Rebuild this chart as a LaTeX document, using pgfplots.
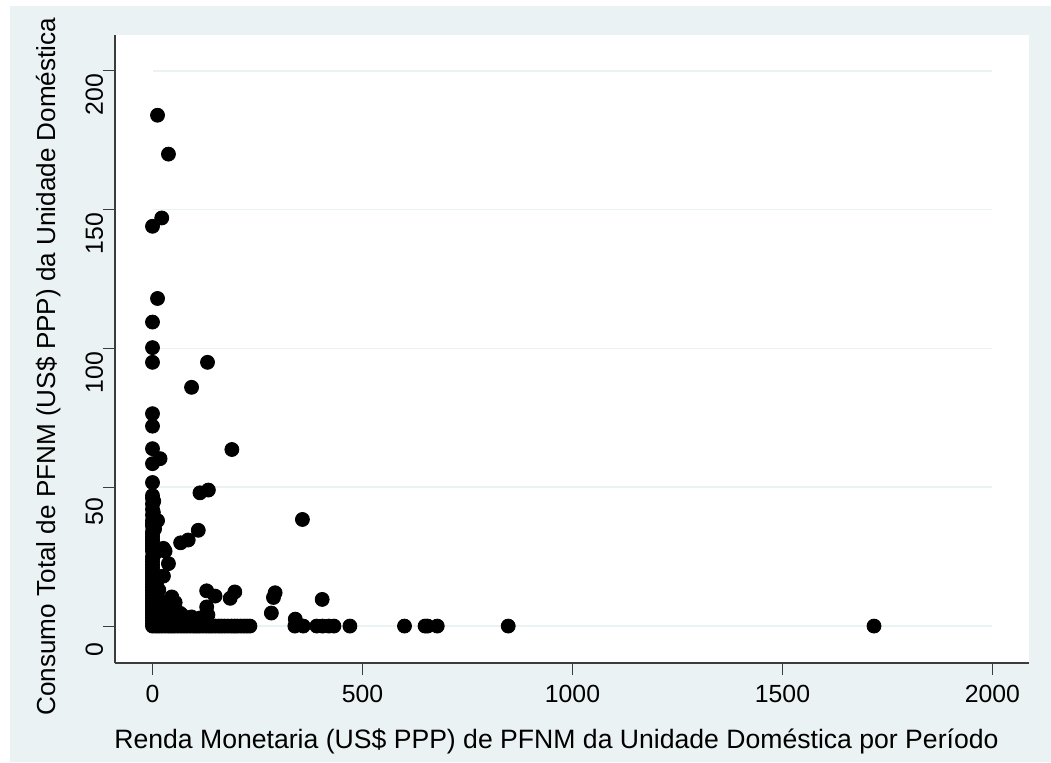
\documentclass[border=0pt]{standalone}
\usepackage{fontspec}
\setmainfont{Liberation Sans}
\usepackage{pgfplots}
\pgfplotsset{compat=1.18}
\definecolor{regionbg}{RGB}{234,242,243}
\definecolor{axisgray}{RGB}{60,60,60}

% Household income from non-timber forest products (x) vs. total consumption (y)
\pgfplotstableread{
x y
12 184
38 170
22 147
0 144
12 118
0 109.5
0 100.3
0 95
131 95
93 86
0 76.5
0 72
0 63.9
189 63.6
18 60.3
0 58.5
0 51.7
113 48
133 49
357 38.4
109 34.5
85 31
67 30
30 27
38 22.5
26 18
129 12.7
149 10.8
196 12.3
185 10
292 12
288 10.3
404 9.6
283 4.7
46 10.5
54 8.5
129 6.9
132 4
66 4.6
93 3.3
0 47
0 46
3 45
0 44
0 42
2 41
0 40
0 38
12 38
0 37
0 36
5 35
0 34
0 33
0 32
0 31
0 30
0 29
26 28
0 28
0 27
5 26
0 25
0 24
0 23
0 22
0 21
0 20
0 19
0 18
0 17
10 16
0 16
0 15
0 14
15 13
0 13
0 12
5 12
0 11
0 10
0 9
0 8
0 7
0 6
0 5
0 4
0 3
0 2
0 1
10 5
20 3
15 7
25 2
30 5
40 3
50 2
60 1
75 2
85 1
100 2
110 1
8 9
20 9
35 6
45 5
55 3
70 4
115 3
0 0
8 0
15 0
22 0
30 0
38 0
45 0
52 0
60 0
68 0
75 0
82 0
90 0
98 0
105 0
112 0
120 0
128 0
135 0
142 0
150 0
158 0
165 0
172 0
180 0
188 0
195 0
202 0
210 0
218 0
225 0
232 0
340 2.5
339 0
359 0
391 0
405 0
420 0
432 0
470 0
600 0
649 0
655 0
678 0
847 0
1718 0
}\pfnmdata

\begin{document}
\begin{tikzpicture}
\useasboundingbox (0,0) rectangle (525.5pt,381pt);
\fill[regionbg] (5pt,0) rectangle (525.5pt,378pt);
\begin{axis}[
  at={(57.5pt,49.5pt)}, anchor=south west,
  scale only axis, width=457pt, height=314pt,
  xmin=-89.3, xmax=2087, ymin=-13.3, ymax=212.9,
  axis x line*=bottom, axis y line*=left,
  axis line style={axisgray, line width=0.7pt, -},
  axis background/.style={fill=white},
  xtick={0,500,1000,1500,2000}, ytick={0,50,100,150,200},
  tick align=outside, major tick length=6pt,
  tick style={axisgray, line width=0.5pt},
  ticklabel style={font=\fontsize{12.4}{14}\selectfont},
  /pgf/number format/assume math mode=true,
  /pgf/number format/1000 sep={},
  scaled ticks=false,
  xticklabel style={anchor=base, yshift=-13.5pt},
  yticklabel style={rotate=90, anchor=base, xshift=-12pt},
  xlabel={Renda Monetaria (US\$ PPP) de PFNM da Unidade Doméstica por Período},
  ylabel={Consumo Total de PFNM (US\$ PPP) da Unidade Doméstica},
  xlabel style={font=\fontsize{13.3}{15}\selectfont,
    at={(axis description cs:0.483,-0.1354)}, anchor=base},
  ylabel style={font=\fontsize{13.05}{15}\selectfont,
    at={(axis description cs:-0.0656,0.472)}, anchor=base},
]
\foreach \g in {0,50,100,150,200} {
  \edef\tmp{\noexpand\draw[regionbg, line width=0.8pt] (axis cs:0,\g) -- (axis cs:2000,\g);}
  \tmp
}
\addplot[only marks, mark=*, mark size=3.5pt, mark options={fill=black, draw=black}]
  table[x=x, y=y] {\pfnmdata};
\end{axis}
\end{tikzpicture}
\end{document}
